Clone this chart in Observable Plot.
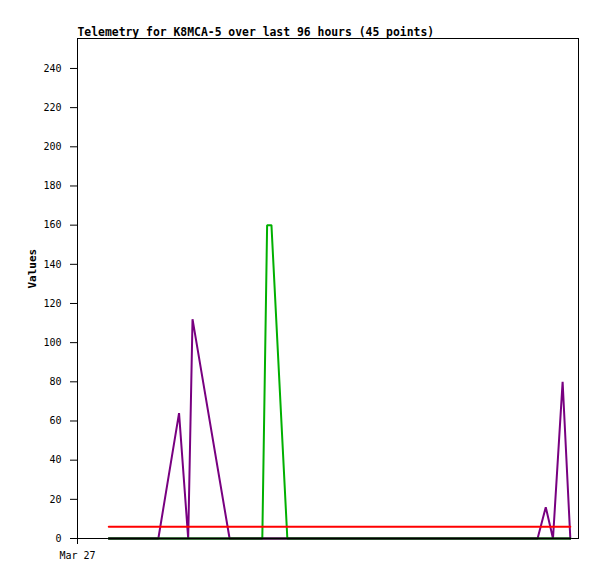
<!DOCTYPE html>
<html>
<head>
<meta charset="utf-8">
<script src="https://cdn.jsdelivr.net/npm/d3@7"></script>
<script src="https://cdn.jsdelivr.net/npm/@observablehq/plot@0.6"></script>
<style>
  html, body { margin: 0; padding: 0; background: #fff; }
  svg { display: block; }
</style>
</head>
<body>
<div id="chart"></div>
<script>
// Hours since Mar 27 00:00
const xDomain = [0, 104.1];
const yTicks = [0, 20, 40, 60, 80, 100, 120, 140, 160, 180, 200, 220, 240];
const xTicks = [0];
const xTickLabels = ["Mar 27"];

const purpleHours  = [6.5, 16.8, 21.1, 23.0, 23.9, 31.6, 95.6, 97.3, 98.8, 100.8, 102.4];
const purpleValues = [0,   0,    64,   0,    112,  0,    0,    16,   0,    80,    0];

const greenHours  = [6.5, 38.4, 39.4, 40.3, 43.6, 102.4];
const greenValues = [0,   0,    160,  160,  0,    0];

const redHours  = [6.5, 102.4];
const redValues = [6, 6];

const blackHours  = [6.5, 102.4];
const blackValues = [0, 0];

const title = "Telemetry for K8MCA-5 over last 96 hours (45 points)";
const yLabel = "Values";

const toRows = (hs, vs) => hs.map((h, i) => ({x: h, y: vs[i]}));

const mono = "'DejaVu Sans Mono', monospace";

const plot = Plot.plot({
  width: 597,
  height: 579,
  marginLeft: 77,
  marginRight: 19,
  marginTop: 38,
  marginBottom: 41,
  style: {fontFamily: mono, fontSize: "10px", color: "#000", background: "#fff"},
  x: {domain: xDomain},
  y: {domain: [0, 255.3]},
  marks: [
    Plot.frame({stroke: "#000", strokeWidth: 1}),
    Plot.axisY({ticks: yTicks, tickSize: 7, tickPadding: 9, label: null, fontSize: 10}),
    Plot.axisX({ticks: xTicks, tickSize: 6, tickPadding: 7, label: null, fontSize: 10,
      tickFormat: (d) => xTickLabels[xTicks.indexOf(d)]}),
    Plot.line(toRows(purpleHours, purpleValues), {x: "x", y: "y", stroke: "#780080", strokeWidth: 2, strokeLinejoin: "miter"}),
    Plot.line(toRows(greenHours, greenValues), {x: "x", y: "y", stroke: "#00b000", strokeWidth: 2, strokeLinejoin: "miter"}),
    Plot.line(toRows(redHours, redValues), {x: "x", y: "y", stroke: "#ff0000", strokeWidth: 2}),
    Plot.line(toRows(blackHours, blackValues), {x: "x", y: "y", stroke: "#000", strokeWidth: 2}),
    Plot.text([title], {frameAnchor: "top-left", text: (d) => d, dy: -3, textAnchor: "start",
      fontSize: 11.4, fontWeight: "bold", fontFamily: mono, fill: "#000", lineAnchor: "bottom"}),
    Plot.text([yLabel], {frameAnchor: "left", text: (d) => d, dx: -45, rotate: -90,
      fontSize: 11, fontWeight: "bold", fontFamily: mono, fill: "#000"})
  ]
});
document.getElementById("chart").appendChild(plot);
</script>
</body>
</html>
